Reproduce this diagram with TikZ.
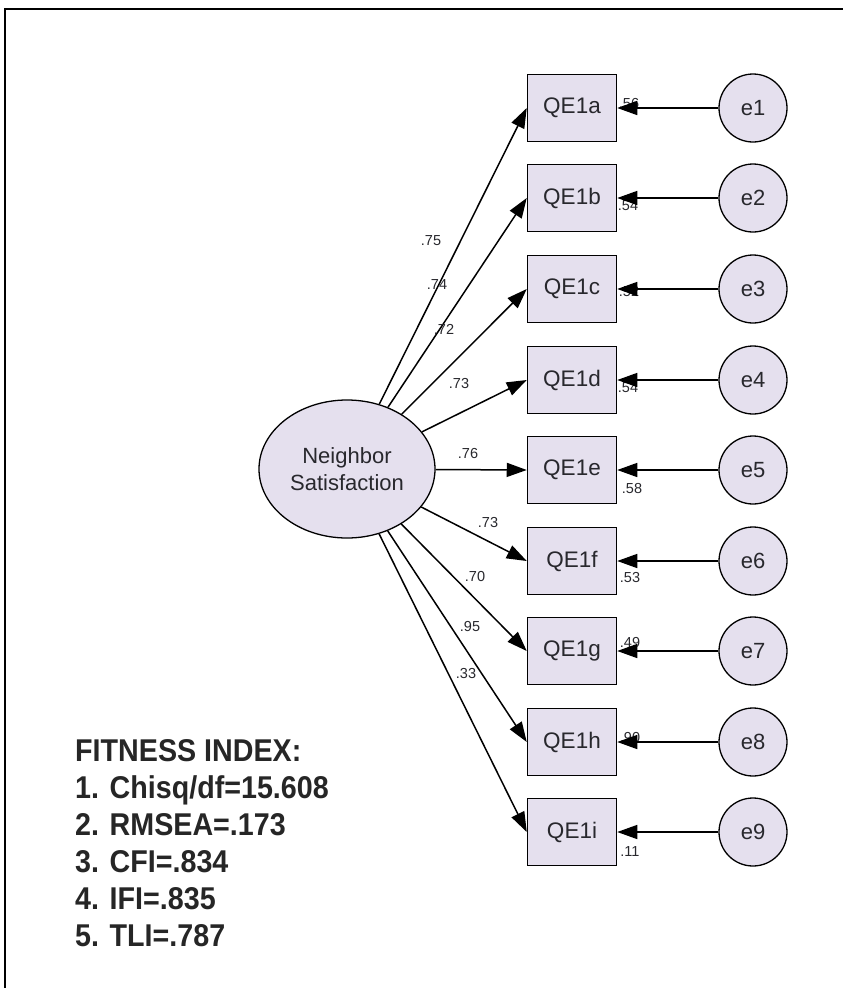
\documentclass[tikz,border=0pt]{standalone}
\usepackage{fontspec}
\setmainfont{Liberation Sans}
\newfontfamily\fitfont[FakeStretch=0.91]{Liberation Sans}
\usetikzlibrary{arrows.meta,shapes.geometric}
\definecolor{lav}{RGB}{229,224,238}
\definecolor{txt}{RGB}{40,40,45}
\tikzset{
  obs/.style={draw=black,line width=1.5pt,fill=lav,minimum width=89pt,minimum height=67pt,inner sep=0pt,font=\fontsize{22.5}{24}\selectfont,text=txt},
  err/.style={circle,draw=black,line width=1.3pt,fill=lav,minimum size=68pt,inner sep=0pt,font=\fontsize{22}{24}\selectfont,text=txt},
  lat/.style={ellipse,draw=black,line width=1.3pt,fill=lav,minimum width=176pt,minimum height=138pt,inner sep=0pt,align=center,font=\fontsize{22}{27}\selectfont,text=txt},
  path arrow/.style={draw=black,line width=1.5pt,-{Triangle[length=20pt,width=14pt]}},
  lbl/.style={font=\fontsize{14.5}{16}\selectfont,text=txt,inner sep=0pt},
  fit/.style={font=\fitfont\bfseries\fontsize{31.5}{37}\selectfont,align=left,anchor=north west,inner sep=0pt,text=black!85}
}
\begin{document}
\begin{tikzpicture}[x=1pt,y=-1pt]
\useasboundingbox (0,0) rectangle (843,988);
\fill[white] (0,0) rectangle (843,988);
\draw[line width=2pt] (5,988) -- (5,9) -- (843,9);

\node[lat] (ns) at (347,469) {Neighbor\\Satisfaction};

\foreach \n/\t/\y in {a/QE1a/108,b/QE1b/198,c/QE1c/289,d/QE1d/380,e/QE1e/470,f/QE1f/561,g/QE1g/651,h/QE1h/742,i/QE1i/832}{
  \node[obs] (q\n) at (572,\y) {\t};
}
\foreach \k/\y in {1/108,2/198,3/289,4/380,5/470,6/561,7/651,8/742,9/832}{
  \node[err] (e\k) at (753,\y) {e\k};
}

% residual labels (some are covered by the arrowheads)
\node[lbl] (ra) at (629,104) {.56};
\node[lbl] (rb) at (628,206) {.54};
\node[lbl] (rc) at (629,292) {.52};
\node[lbl] (rd) at (628,388) {.54};
\node[lbl] (re) at (632,489) {.58};
\node[lbl] (rf) at (630,578) {.53};
\node[lbl] (rg) at (630,642) {.49};
\node[lbl] (rh) at (630,737) {.90};
\node[lbl] (ri) at (630,852) {.11};

% loadings
\foreach \n in {a,b,c,d,e,f,g,h,i}{
  \draw[path arrow] (ns) -- (q\n.west);
}
\foreach \k/\n in {1/a,2/b,3/c,4/d,5/e,6/f,7/g,8/h,9/i}{
  \draw[path arrow] (e\k) -- (q\n.east);
}

\node[lbl] (la) at (431,241) {.75};
\node[lbl] (lb) at (437,285) {.74};
\node[lbl] (lc) at (444,329) {.72};
\node[lbl] (ld) at (459,384) {.73};
\node[lbl] (le) at (468,454) {.76};
\node[lbl] (lf) at (488,523) {.73};
\node[lbl] (lg) at (475,577) {.70};
\node[lbl] (lh) at (470,627) {.95};
\node[lbl] (li) at (466,673) {.33};

\node[fit] (fitidx) at (75,739) {FITNESS INDEX:\\1. Chisq/df=15.608\\2. RMSEA=.173\\3. CFI=.834\\4. IFI=.835\\5. TLI=.787};
\end{tikzpicture}
\end{document}
